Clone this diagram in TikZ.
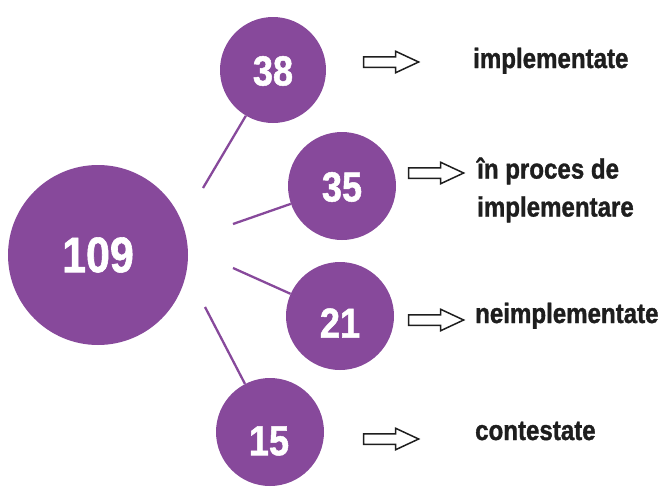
\documentclass[tikz,border=0pt]{standalone}
\usepackage{fontspec}
\setmainfont[FakeStretch=0.86, BoldFeatures={FakeStretch=0.86, FakeBold=1.2}]{Liberation Sans}
\usetikzlibrary{shapes.arrows}
\definecolor{purp}{RGB}{135,73,155}
\definecolor{txt}{RGB}{30,30,30}
\tikzset{
  bub/.style={circle, fill=purp, inner sep=0pt},
  num/.style={text=white, font=\bfseries\fontsize{42}{42}\selectfont, inner sep=0pt},
  lab/.style={text=txt, font=\bfseries\fontsize{28}{38}\selectfont, inner sep=0pt, anchor=base west, align=left},
  link/.style={purp, line width=2.3pt},
  harrow/.style={single arrow, draw=txt, fill=white, line width=1.5pt, minimum height=55pt, minimum width=20pt, single arrow head extend=5.5pt, inner sep=4.5pt, single arrow tip angle=50}
}
\begin{document}
\begin{tikzpicture}[x=1pt,y=-1pt]
\useasboundingbox (0,0) rectangle (665,488);
\node[bub, minimum size=180pt] (c109) at (98,255) {};
\node[bub, minimum size=106pt] (c38) at (273,70) {};
\node[bub, minimum size=108pt] (c35) at (342,186) {};
\node[bub, minimum size=108pt] (c21) at (340,316) {};
\node[bub, minimum size=108pt] (c15) at (270,432) {};
\node[num, font=\bfseries\fontsize{50}{50}\selectfont] (n109) at (98,255) {109};
\node[num] (n38) at (273,71) {38};
\node[num] (n35) at (342,187) {35};
\node[num] (n21) at (340,323) {21};
\node[num] (n15) at (269,441) {15};
\coordinate (a1) at (203,188);
\coordinate (a2) at (233,224);
\coordinate (a3) at (233,268);
\coordinate (a4) at (205,307);
\draw[link] (a1) -- (c38);
\draw[link] (a2) -- (c35);
\draw[link] (a3) -- (c21);
\draw[link] (a4) -- (c15);
\node[harrow] (r1) at (385.5,62) {};
\node[harrow] (r2) at (430.5,173) {};
\node[harrow] (r3) at (430.5,320) {};
\node[harrow] (r4) at (385.5,439) {};
\node[lab] (l1) at (473,68) {implementate};
\node[lab, anchor=west] (l2) at (477,190) {în proces de\\implementare};
\node[lab] (l3) at (475,323) {neimplementate};
\node[lab] (l4) at (475,440) {contestate};
\end{tikzpicture}
\end{document}
